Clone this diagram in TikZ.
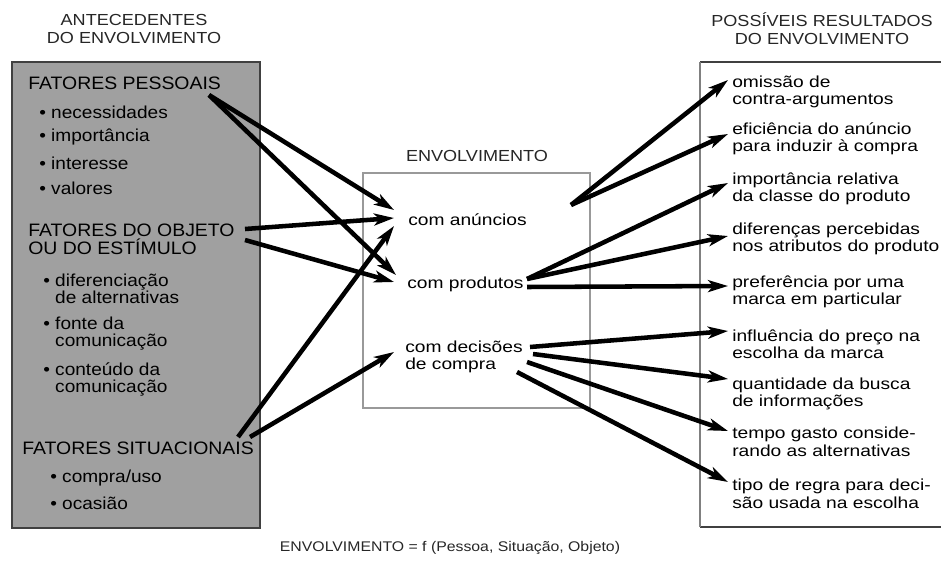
\documentclass[tikz,border=0pt]{standalone}
\usepackage{fontspec}
\setmainfont{Liberation Sans}
\newfontfamily\rtfont[FakeStretch=1.2]{Liberation Sans}
\newfontfamily\ltfont[FakeStretch=1.08]{Liberation Sans}
\newfontfamily\lbfont[FakeStretch=1.1]{Liberation Sans}
\newfontfamily\hdfont[FakeStretch=1.13]{Liberation Sans}
\usetikzlibrary{arrows.meta}
\definecolor{boxgray}{RGB}{160,160,160}
\begin{document}
\begin{tikzpicture}[x=0.75pt,y=-0.75pt,
  hd/.style={font=\hdfont\fontsize{12}{13.5}\selectfont, align=center, inner sep=0pt, text=black!85},
  captiontext/.style={font=\hdfont\fontsize{10.5}{12}\selectfont, inner sep=0pt, text=black!85},
  lt/.style={font=\ltfont\fontsize{13.5}{13.5}\selectfont, anchor=west, align=left, inner sep=0pt},
  lb/.style={font=\lbfont\fontsize{13}{12.8}\selectfont, anchor=west, align=left, inner sep=0pt},
  rt/.style={font=\rtfont\fontsize{12}{13.1}\selectfont, anchor=west, align=left, inner sep=0pt},
  arr/.style={line width=3.4pt, -{Stealth[length=15pt,width=9pt,inset=4pt]}},
  leftbox/.style={draw=black!75, line width=1.5pt, fill=boxgray},
  midbox/.style={draw=black!40, line width=0.8pt},
  rightbox/.style={draw=black!75, line width=1.1pt},
  rightside/.style={draw=black!50, line width=0.9pt}
]
\useasboundingbox (0,0) rectangle (941,564);

% headings
\node[hd] (hleft) at (134,29) {ANTECEDENTES\\DO ENVOLVIMENTO};
\node[hd] (hright) at (822,29) {POSSÍVEIS RESULTADOS\\DO ENVOLVIMENTO};
\node[hd] (hmid) at (477,156) {ENVOLVIMENTO};
\node[captiontext] (caption) at (450,548) {ENVOLVIMENTO = f (Pessoa, Situação, Objeto)};

% boxes
\draw[leftbox] (12,62) rectangle (260,528);
\draw[midbox] (363,173) rectangle (590,408);
\draw[rightbox] (700,62) -- (941,62);
\draw[rightbox] (700,527) -- (941,527);
\draw[rightside] (700,62) -- (700,527);

% left texts
\node[lt] (pess) at (28,83) {FATORES PESSOAIS};
\node[lb] (l1) at (39,112) {\textbullet\ necessidades};
\node[lb] (l2) at (39,137) {\textbullet\ importância};
\node[lb] (l3) at (39,163) {\textbullet\ interesse};
\node[lb] (l4) at (39,188) {\textbullet\ valores};
\node[lt] (obj) at (28,239) {FATORES DO OBJETO\\OU DO ESTÍMULO};
\node[lb] (l5) at (43,289) {\textbullet\ diferenciação\\\phantom{\textbullet\ }de alternativas};
\node[lb] (l6) at (43,334) {\textbullet\ fonte da\\\phantom{\textbullet\ }comunicação};
\node[lb] (l7) at (43,379) {\textbullet\ conteúdo da\\\phantom{\textbullet\ }comunicação};
\node[lt] (sit) at (22,448) {FATORES SITUACIONAIS};
\node[lb] (l8) at (50,478) {\textbullet\ compra/uso};
\node[lb] (l9) at (50,503) {\textbullet\ ocasião};

% middle texts
\node[rt] (anun) at (408,220) {com anúncios};
\node[rt] (prod) at (407,284) {com produtos};
\node[rt] (deci) at (405,357) {com decisões\\de compra};

% right texts
\node[rt] (r1) at (732,92) {omissão de\\contra-argumentos};
\node[rt] (r2) at (732,139) {eficiência do anúncio\\para induzir à compra};
\node[rt] (r3) at (732,189) {importância relativa\\da classe do produto};
\node[rt] (r4) at (732,239) {diferenças percebidas\\nos atributos do produto};
\node[rt] (r5) at (732,292) {preferência por uma\\marca em particular};
\node[rt] (r6) at (732,344) {influência do preço na\\escolha da marca};
\node[rt] (r7) at (732,394) {quantidade da busca\\de informações};
\node[rt] (r8) at (732,442) {tempo gasto conside-\\rando as alternativas};
\node[rt] (r9) at (732,494) {tipo de regra para deci-\\são usada na escolha};

% connector end points
\coordinate (pessO) at (209,95);
\coordinate (objO1) at (245,229);
\coordinate (objO2) at (245,240);
\coordinate (sitO1) at (238,437);
\coordinate (sitO2) at (250,437);
\coordinate (anunI1) at (394,210);
\coordinate (anunI2) at (394,218);
\coordinate (anunI3) at (394,226);
\coordinate (prodI1) at (396,275);
\coordinate (prodI2) at (394,282);
\coordinate (deciI) at (394,352);
\coordinate (anunO) at (571,205);
\coordinate (prodO1) at (527,279);
\coordinate (prodO2) at (527,287);
\coordinate (deciO1) at (530,347);
\coordinate (deciO2) at (533,354);
\coordinate (deciO3) at (527,362);
\coordinate (deciO4) at (517,372);
\coordinate (r1I) at (728,80);
\coordinate (r2I) at (728,134);
\coordinate (r3I) at (728,183);
\coordinate (r4I) at (728,236);
\coordinate (r5I) at (728,286);
\coordinate (r6I) at (728,331);
\coordinate (r7I) at (728,379);
\coordinate (r8I) at (728,431);
\coordinate (r9I) at (728,482);

% left arrows
\draw[arr] (pessO) -- (anunI1);
\draw[arr] (pessO) -- (prodI1);
\draw[arr] (objO1) -- (anunI2);
\draw[arr] (objO2) -- (prodI2);
\draw[arr] (sitO1) -- (anunI3);
\draw[arr] (sitO2) -- (deciI);

% right arrows
\draw[arr] (anunO) -- (r1I);
\draw[arr] (anunO) -- (r2I);
\draw[arr] (prodO1) -- (r3I);
\draw[arr] (prodO1) -- (r4I);
\draw[arr] (prodO2) -- (r5I);
\draw[arr] (deciO1) -- (r6I);
\draw[arr] (deciO2) -- (r7I);
\draw[arr] (deciO3) -- (r8I);
\draw[arr] (deciO4) -- (r9I);
\end{tikzpicture}
\end{document}
